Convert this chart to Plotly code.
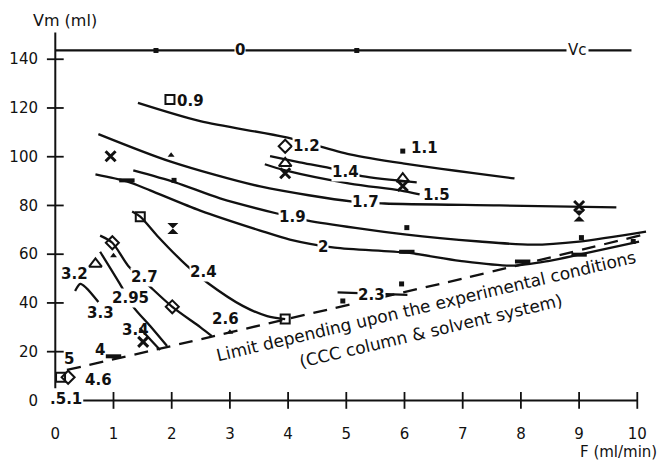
import plotly.graph_objects as go

# ---- data: F (ml/min) vs Vm (ml) ----
X_TICKS = [0, 1, 2, 3, 4, 5, 6, 7, 8, 9, 10]
Y_TICKS = [0, 20, 40, 60, 80, 100, 120, 140]

VC_F = [0.0, 9.9]
VC_VM = [143.6, 143.6]

C12_F = [1.42, 2.49, 3.95, 5.06, 5.97, 7.89]
C12_VM = [122.1, 114.6, 108.0, 101.0, 97.3, 91.1]
C14_F = [3.69, 4.2, 4.72, 5.27, 6.21]
C14_VM = [100.2, 97.7, 95.3, 92.0, 89.5]
C15_F = [3.6, 3.95, 5.06, 5.92, 6.26]
C15_VM = [96.9, 94.4, 89.0, 86.2, 84.5]
C17_F = [0.74, 1.97, 3.52, 5.11, 5.66, 7.63, 9.64]
C17_VM = [109.3, 98.1, 87.8, 81.6, 80.8, 80.0, 79.2]
C19_F = [1.34, 2.06, 2.83, 3.81, 4.34, 6.04, 7.29, 8.2, 9.0, 10.15]
C19_VM = [94.4, 89.5, 82.9, 76.7, 73.8, 68.0, 65.2, 63.9, 65.2, 69.3]
C2_F = [0.69, 1.23, 1.63, 2.49, 3.52, 4.03, 4.8, 6.04, 6.95, 7.86, 8.49, 9.0, 10.03]
C2_VM = [92.8, 89.9, 86.2, 77.9, 69.7, 66.0, 62.7, 60.6, 57.3, 55.3, 57.3, 59.8, 65.2]
C23_F = [4.85, 6.05]
C23_VM = [44.3, 43.3]
C24_F = [1.32, 1.46, 1.75, 2.26, 2.62, 3.22, 3.64, 3.95]
C24_VM = [77.5, 75.4, 67.6, 55.3, 48.2, 38.8, 34.6, 33.4]
C27_F = [0.77, 0.98, 1.25, 1.63, 2.01, 2.49, 2.69]
C27_VM = [67.6, 64.7, 55.3, 46.6, 38.4, 30.1, 26.4]
C295_F = [0.77, 1.11, 1.34, 1.63, 1.92]
C295_VM = [61.0, 47.8, 38.4, 30.5, 22.3]
C33_F = [0.34, 0.43, 0.53, 0.74]
C33_VM = [44.9, 47.8, 46.2, 40.4]
C34_F = [1.45, 1.8]
C34_VM = [29.7, 20.7]

LIMIT_F = [0.2, 2.3, 4.0, 7.0, 10.1]
LIMIT_VM = [12.5, 24.0, 33.5, 50.0, 68.0]

# measured points, grouped by symbol
SQ_F = [1.97, 1.46, 3.95, 0.09]
SQ_VM = [123.5, 75.4, 33.4, 9.5]
DIA_F = [3.95, 0.98, 2.01, 0.22]
DIA_VM = [104.3, 64.7, 38.4, 9.5]
TRI_F = [3.95, 5.97, 0.69]
TRI_VM = [97.3, 91.0, 56.0]
X_F = [0.95, 3.95, 5.97, 9.0, 1.51]
X_VM = [100.2, 93.2, 88.0, 79.8, 24.0]
TRIF_F = [1.99, 1.0, 3.0]
TRIF_VM = [100.6, 59.4, 28.0]
DOT_F = [5.97, 2.04, 6.04, 9.04, 4.94, 5.95, 9.93, 1.73, 5.18]
DOT_VM = [102.3, 90.3, 70.9, 66.8, 40.8, 47.8, 65.2, 143.6, 143.6]
BAR_F = [1.23, 6.04, 8.03, 9.0, 1.0]
BAR_VM = [90.3, 61.0, 57.0, 59.8, 18.1]
HG_F = [2.02, 9.0]
HG_VM = [70.5, 75.7]

FONT = "DejaVu Sans"
INK = "#111111"

fig = go.Figure()

def curve(fx, fy, dash="solid"):
    fig.add_trace(go.Scatter(
        x=fx, y=fy, mode="lines",
        line=dict(color=INK, width=2.3, shape="spline", smoothing=0.8, dash=dash),
        hoverinfo="skip", showlegend=False, cliponaxis=False))

curve(VC_F, VC_VM)
for fx, fy in [(C12_F, C12_VM), (C14_F, C14_VM), (C15_F, C15_VM), (C17_F, C17_VM),
               (C19_F, C19_VM), (C2_F, C2_VM), (C23_F, C23_VM), (C24_F, C24_VM),
               (C27_F, C27_VM), (C295_F, C295_VM), (C33_F, C33_VM), (C34_F, C34_VM)]:
    curve(fx, fy)
curve(LIMIT_F, LIMIT_VM, dash="14px,9px")

def points(fx, fy, symbol, size, lw=1.6, fill=INK):
    fig.add_trace(go.Scatter(
        x=fx, y=fy, mode="markers",
        marker=dict(symbol=symbol, size=size, color=fill,
                    line=dict(color=INK, width=lw)),
        hoverinfo="skip", showlegend=False, cliponaxis=False))

points(SQ_F, SQ_VM, "square-open", 9, lw=2)
points(DIA_F, DIA_VM, "diamond-open", 10, lw=2)
points(TRI_F, TRI_VM, "triangle-up-open", 11, lw=2)
points(X_F, X_VM, "x-thin-open", 10, lw=3)
points(TRIF_F, TRIF_VM, "triangle-up", 6, lw=0)
points(DOT_F, DOT_VM, "square", 5, lw=0)
points(BAR_F, BAR_VM, "line-ew-open", 11, lw=4)
points(HG_F, HG_VM, "hourglass", 11, lw=0)

# axis lines and crossing tick marks
fig.add_shape(type="line", xref="x", yref="y", x0=0, x1=0, y0=5, y1=151,
              line=dict(color=INK, width=2))
fig.add_shape(type="line", xref="x", yref="y", x0=0.48, x1=10, y0=0, y1=0,
              line=dict(color=INK, width=2))
points(X_TICKS[1:], [0] * (len(X_TICKS) - 1), "line-ns-open", 12, lw=1.8)
points([0] * (len(Y_TICKS) - 1), Y_TICKS[1:], "line-ew-open", 12, lw=1.8)

# curve labels
labels = [
    ("0.9", 2.33, 123.0, False), ("1.1", 6.35, 103.7, False), ("1.2", 4.32, 104.5, True),
    ("1.4", 4.99, 93.6, True), ("1.5", 6.55, 84.2, False), ("1.7", 5.33, 81.4, True),
    ("1.9", 4.08, 75.2, True), ("2", 4.6, 62.8, True), ("2.3", 5.44, 43.4, True),
    ("2.4", 2.54, 52.5, True), ("2.6", 2.92, 33.6, False), ("2.7", 1.53, 50.8, True),
    ("2.95", 1.29, 42.0, True), ("3.2", 0.33, 52.0, False), ("3.3", 0.77, 36.0, False),
    ("3.4", 1.37, 28.7, False), ("4", 0.77, 20.5, False), ("4.6", 0.74, 8.2, False),
    ("5", 0.24, 16.8, False), (".5.1", 0.19, 0.4, False), ("0", 3.17, 143.6, True),
]
for text, fx, fy, cut in labels:
    fig.add_annotation(x=fx, y=fy, xref="x", yref="y", text=text, showarrow=False,
                       font=dict(family=FONT, size=15, color=INK, weight="bold"),
                       bgcolor="white" if cut else None, borderpad=0)
fig.add_annotation(x=8.97, y=143.6, xref="x", yref="y", text="Vc", showarrow=False,
                   font=dict(family=FONT, size=15, color=INK), bgcolor="white", borderpad=1)

fig.add_annotation(x=6.38, y=38.6, xref="x", yref="y", showarrow=False, textangle=-13.3,
                   text="Limit depending upon the experimental conditions",
                   font=dict(family=FONT, size=17, color=INK))
fig.add_annotation(x=6.45, y=28.4, xref="x", yref="y", showarrow=False, textangle=-13.3,
                   text="(CCC column &amp; solvent system)",
                   font=dict(family=FONT, size=17, color=INK))

# axis titles
fig.add_annotation(x=0.0325, y=1.023, xref="paper", yref="paper", text="Vm (ml)",
                   showarrow=False, xanchor="center", yanchor="middle",
                   font=dict(family=FONT, size=16, color=INK))
fig.add_annotation(x=0.998, y=-0.074, xref="paper", yref="paper", text="F (ml/min)",
                   showarrow=False, xanchor="right", yanchor="middle",
                   font=dict(family=FONT, size=15, color=INK))

fig.update_layout(
    width=667, height=464,
    margin=dict(l=45, r=7, t=30, b=41),
    paper_bgcolor="white", plot_bgcolor="white",
    xaxis=dict(range=[-0.177, 10.39], tickvals=X_TICKS, showgrid=False, zeroline=False,
               showline=False, ticks="", tickfont=dict(family=FONT, size=15, color=INK)),
    yaxis=dict(range=[-9.27, 152.0], tickvals=Y_TICKS, showgrid=False, zeroline=False,
               showline=False, ticks="", ticklabelstandoff=6,
               tickfont=dict(family=FONT, size=15, color=INK)),
)

fig.write_html("out.html")
